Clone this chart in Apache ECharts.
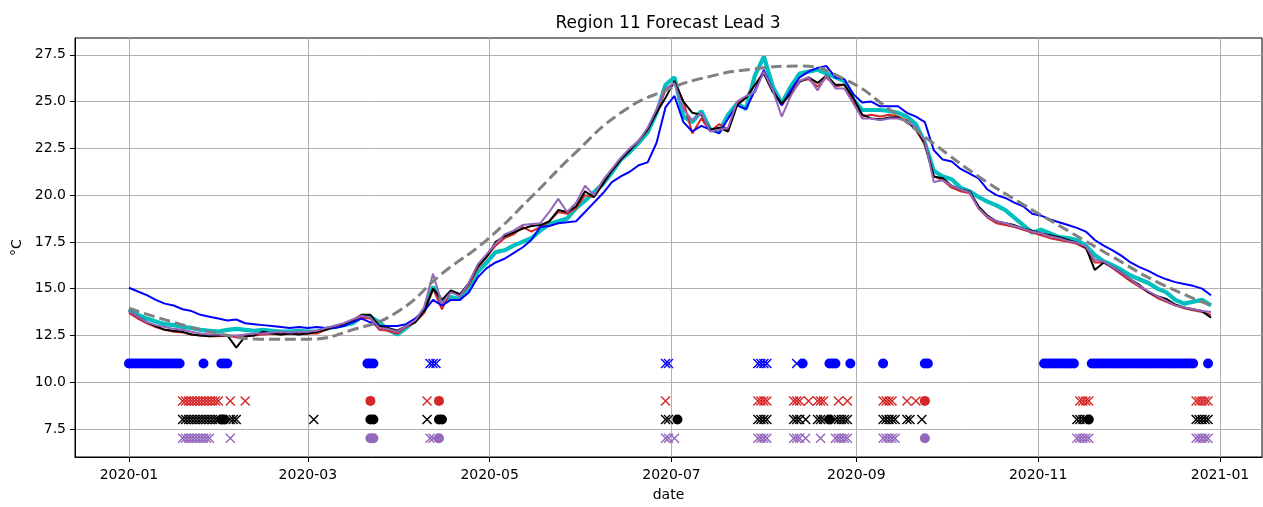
<!DOCTYPE html>
<html>
<head>
<meta charset="utf-8">
<title>Region 11 Forecast Lead 3</title>
<script src="https://cdn.jsdelivr.net/npm/echarts@6/dist/echarts.min.js"></script>
<style>
  html, body { margin: 0; padding: 0; background: #fff; }
  #chart { width: 1263px; height: 507px; }
</style>
</head>
<body>
<div id="chart"></div>
<script>
var DAY = 86400000;
var START = Date.UTC(2020, 0, 1);
var STEP = 3; // line values are read every 3 days starting 2020-01-01

var obsBlack = [
  13.8, 13.5, 13.2, 13.0, 12.8, 12.75, 12.7, 12.55, 12.5, 12.45, 12.5, 12.5, 11.85, 12.45, 12.5, 12.7, 12.6, 12.55, 12.6, 12.55, 12.6,
  12.7, 12.8, 13.0, 13.1, 13.3, 13.6, 13.6, 13.0, 12.9, 12.75, 13.0, 13.2, 13.8, 15.0, 14.4, 14.9, 14.7, 15.3, 16.2, 16.7,
  17.5, 17.8, 18.0, 18.2, 18.35, 18.4, 18.6, 19.2, 19.1, 19.4, 20.2, 19.9, 20.6, 21.3, 21.9, 22.4, 22.9, 23.5, 24.4, 25.2,
  26.1, 25.0, 24.4, 24.3, 23.5, 23.6, 23.4, 24.8, 25.2, 25.9, 26.5, 25.5, 24.9, 25.4, 26.05, 26.3, 26.0, 26.4, 25.9, 25.9,
  25.2, 24.3, 24.1, 24.05, 24.15, 24.15, 23.95, 23.5, 22.8, 21.0, 20.9, 20.5, 20.3, 20.2, 19.4, 18.9, 18.6, 18.5, 18.4, 18.2,
  18.1, 17.95, 17.85, 17.75, 17.6, 17.45, 17.2, 16.0, 16.4, 16.15, 15.85, 15.5, 15.2, 14.8, 14.6, 14.45, 14.15, 14.0, 13.9, 13.8, 13.45
];
var fcRed = [
  13.7, 13.4, 13.15, 12.95, 12.8, 12.7, 12.65, 12.55, 12.5, 12.45, 12.45, 12.5, 12.4, 12.5, 12.5, 12.55, 12.6, 12.55, 12.6, 12.6, 12.6,
  12.6, 12.8, 12.95, 13.1, 13.3, 13.45, 13.4, 12.8, 12.75, 12.6, 12.95, 13.2, 13.7, 15.0, 13.9, 14.9, 14.6, 15.2, 16.1, 16.7,
  17.3, 17.7, 17.9, 18.3, 18.05, 18.3, 18.6, 19.1, 19.0, 19.3, 20.0, 19.9, 20.6, 21.3, 21.9, 22.4, 22.9, 23.5, 24.5, 25.6,
  26.0, 25.0, 23.3, 24.1, 23.4, 23.8, 23.5, 24.9, 25.2, 25.9, 26.6, 25.6, 24.8, 25.5, 26.1, 26.2, 25.8, 26.3, 25.8, 25.9,
  25.0, 24.2, 24.3, 24.2, 24.3, 24.2, 24.0, 23.5, 22.7, 21.0, 20.8, 20.4, 20.2, 20.1, 19.3, 18.8, 18.5, 18.4, 18.3, 18.15,
  18.0, 17.85, 17.7, 17.6, 17.5, 17.4, 17.15, 16.4, 16.4, 16.1, 15.75, 15.4, 15.1, 14.8, 14.5, 14.3, 14.1, 13.95, 13.85, 13.75, 13.6
];
var fcCyan = [
  13.9, 13.6, 13.4, 13.25, 13.1, 13.05, 12.95, 12.9, 12.8, 12.75, 12.7, 12.8, 12.85, 12.8, 12.75, 12.8, 12.75, 12.7, 12.7, 12.75, 12.7,
  12.7, 12.85, 12.95, 13.05, 13.15, 13.5, 13.5, 13.2, 12.8, 12.55, 12.9, 13.3, 13.8, 15.1, 14.3, 14.55, 14.45, 15.0, 15.9, 16.4,
  16.95, 17.05, 17.3, 17.5, 17.7, 18.1, 18.45, 18.6, 18.75, 19.3, 19.7, 20.15, 20.6, 21.2, 21.9, 22.3, 22.8, 23.35, 24.4, 25.9,
  26.3, 24.2, 23.9, 24.5, 23.5, 23.4, 24.3, 24.9, 24.6, 26.4, 27.4, 25.8, 24.9, 25.8, 26.5, 26.6, 26.7, 26.5, 26.3, 26.1,
  25.1, 24.55, 24.55, 24.55, 24.5, 24.4, 24.2, 23.8, 22.8, 21.3, 21.0, 20.85, 20.4, 20.2, 19.9, 19.65, 19.45, 19.2, 18.8, 18.4,
  18.0, 18.15, 17.95, 17.75, 17.7, 17.6, 17.3, 16.8, 16.45, 16.25, 16.0, 15.7, 15.5, 15.3, 15.0, 14.8, 14.4, 14.2, 14.3, 14.4, 14.1
];
var fcBlue = [
  15.05, 14.85, 14.65, 14.4, 14.2, 14.1, 13.9, 13.8, 13.6, 13.5, 13.4, 13.3, 13.35, 13.15, 13.1, 13.05, 13.0, 12.95, 12.9, 12.95, 12.9,
  12.95, 12.9, 12.9, 13.0, 13.2, 13.4, 13.2, 13.0, 13.0, 13.0, 13.1, 13.4, 13.8, 14.4, 14.1, 14.4, 14.4, 14.8, 15.6, 16.1,
  16.4, 16.6, 16.9, 17.2, 17.6, 18.3, 18.35, 18.5, 18.55, 18.6, 19.1, 19.6, 20.1, 20.7, 21.0, 21.25, 21.6, 21.75, 22.8, 24.7,
  25.3, 23.9, 23.4, 23.7, 23.5, 23.3, 24.1, 24.8, 24.6, 25.6, 26.7, 25.6, 24.8, 25.6, 26.3, 26.6, 26.8, 26.9, 26.3, 26.2,
  25.4, 24.95, 25.0, 24.75, 24.75, 24.75, 24.4, 24.2, 23.9, 22.4, 21.9, 21.8, 21.4, 21.15, 20.9, 20.3, 20.0, 19.85, 19.6, 19.4,
  19.0, 18.9, 18.7, 18.55, 18.4, 18.25, 18.05, 17.6, 17.3, 17.05, 16.75, 16.4, 16.15, 15.95, 15.7, 15.5, 15.35, 15.25, 15.15, 15.0, 14.65
];
var fcPurple = [
  13.8, 13.5, 13.2, 13.05, 12.95, 12.85, 12.8, 12.7, 12.6, 12.55, 12.55, 12.5, 12.5, 12.55, 12.6, 12.6, 12.65, 12.7, 12.65, 12.7, 12.7,
  12.75, 12.9, 13.0, 13.15, 13.35, 13.55, 13.45, 12.9, 12.85, 12.7, 13.0, 13.3, 14.0, 15.8, 14.2, 14.8, 14.6, 15.3, 16.3, 16.85,
  17.4, 17.9, 18.1, 18.4, 18.45, 18.5, 19.1, 19.8, 19.1, 19.6, 20.5, 20.0, 20.8, 21.4, 22.0, 22.5, 22.9, 23.6, 24.6, 25.7,
  26.0, 24.6, 24.0, 24.4, 23.4, 23.5, 23.6, 25.0, 25.3, 25.5, 26.6, 25.6, 24.2, 25.3, 26.1, 26.3, 25.6, 26.4, 25.7, 25.7,
  24.9, 24.1, 24.1, 24.0, 24.1, 24.1, 23.95, 23.6, 22.9, 20.7, 20.8, 20.5, 20.3, 20.15, 19.3, 18.85, 18.6, 18.5, 18.35, 18.2,
  18.05, 17.95, 17.8, 17.7, 17.55, 17.45, 17.25, 16.55, 16.45, 16.15, 15.85, 15.5, 15.15, 14.85, 14.6, 14.35, 14.1, 14.0, 13.9, 13.8, 13.75
];

// climatology (grey dashed), day offsets from 2020-01-01
var climDays = [0, 15, 30, 45, 60, 75, 90, 105, 120, 135, 150, 165, 180, 195, 210, 225, 240, 255, 270, 285, 300, 315, 330, 345, 363];
var climVals = [13.95, 13.2, 12.6, 12.3, 12.3, 12.8, 13.75, 15.8, 17.6, 19.9, 22.3, 24.4, 25.6, 26.35, 26.75, 26.9, 26.2, 24.6, 22.75, 21.0, 19.5, 18.1, 16.7, 15.35, 14.1];

// event rows: day offsets from 2020-01-01
var rowLevels = { blue: 11, red: 9, black: 8, purple: 7 };
var blueDots = [0, 1, 2, 3, 4, 5, 6, 7, 8, 9, 10, 11, 12, 13, 14, 15, 16, 17, 25, 31, 32, 33, 80, 81, 82,
  226, 235, 236, 237, 242, 253, 267, 268,
  307, 308, 309, 310, 311, 312, 313, 314, 315, 316, 317,
  323, 324, 325, 326, 327, 328, 329, 330, 331, 332, 333, 334, 335, 336, 337, 338, 339, 340, 341, 342,
  343, 344, 345, 346, 347, 348, 349, 350, 351, 352, 353, 354, 355, 356, 357, 362];
var blueCrosses = [101, 102, 103, 180, 181, 211, 212, 213, 214, 224];
var redDots = [81, 104, 267];
var redCrosses = [18, 19, 20, 21, 22, 23, 24, 25, 26, 27, 28, 29, 30, 34, 39, 100, 180,
  211, 212, 213, 214, 223, 224, 225, 228, 231, 232, 233, 238, 241, 253, 254, 255, 256, 261, 264,
  319, 320, 321, 322, 358, 359, 360, 361, 362];
var blackDots = [31, 32, 81, 82, 104, 105, 184, 235, 322];
var blackCrosses = [18, 19, 20, 21, 22, 23, 24, 25, 26, 27, 28, 29, 30, 34, 35, 36, 62, 100, 180, 181,
  211, 212, 213, 214, 223, 224, 225, 227, 231, 232, 233, 237, 238, 239, 240, 241,
  253, 254, 255, 256, 257, 261, 262, 266, 318, 319, 320, 321, 358, 359, 360, 361, 362];
var purpleDots = [81, 82, 104, 267];
var purpleCrosses = [18, 19, 20, 21, 22, 23, 24, 25, 26, 27, 34, 101, 102, 180, 181, 183,
  211, 212, 213, 214, 223, 224, 225, 227, 232, 237, 238, 239, 240, 241,
  253, 254, 255, 256, 257, 318, 319, 320, 321, 322, 358, 359, 360, 361, 362];

var xTicks = [Date.UTC(2020, 0, 1), Date.UTC(2020, 2, 1), Date.UTC(2020, 4, 1), Date.UTC(2020, 6, 1),
  Date.UTC(2020, 8, 1), Date.UTC(2020, 10, 1), Date.UTC(2021, 0, 1)];
var yTicks = [7.5, 10.0, 12.5, 15.0, 17.5, 20.0, 22.5, 25.0, 27.5];

function toTime(d) { return START + d * DAY; }
function lineData(vals) {
  return vals.map(function (v, i) { return [toTime(i * STEP), v]; });
}
function rowData(days, level) {
  return days.map(function (d) { return [toTime(d), level]; });
}

var FONT = 'DejaVu Sans';
var CROSS = 'path://M0,0L10,10M10,0L0,10';

function line(name, vals, color, width, z) {
  return {
    name: name, type: 'line', data: lineData(vals), showSymbol: false, z: z,
    lineStyle: { color: color, width: width }, itemStyle: { color: color }
  };
}
function dots(days, level, color) {
  return {
    type: 'scatter', data: rowData(days, level), symbol: 'circle', symbolSize: 10, z: 3,
    itemStyle: { color: color, opacity: 1 }
  };
}
function crosses(days, level, color) {
  return {
    type: 'scatter', data: rowData(days, level), symbol: CROSS, symbolSize: 9, z: 3,
    itemStyle: { color: color, borderColor: color, borderWidth: 1.4, opacity: 1 }
  };
}

var chart = echarts.init(document.getElementById('chart'), null, { renderer: 'canvas' });
var option = {
  animation: false,
  backgroundColor: '#ffffff',
  textStyle: { fontFamily: FONT },
  title: {
    text: 'Region 11 Forecast Lead 3',
    left: 668, top: 15, textAlign: 'center', padding: 0,
    textStyle: { fontFamily: FONT, fontSize: 17, fontWeight: 'normal', color: '#000' }
  },
  grid: {
    left: 75, right: 1, top: 38, bottom: 48,
    show: true, borderColor: '#000', borderWidth: 1, backgroundColor: 'transparent'
  },
  xAxis: {
    type: 'value',
    min: toTime(-18.1), max: toTime(380.1),
    name: 'date', nameLocation: 'middle', nameGap: 31,
    nameTextStyle: { fontFamily: FONT, fontSize: 14, color: '#000' },
    axisLine: { show: true, lineStyle: { color: '#000', width: 1 } },
    axisTick: { show: true, length: 5, customValues: xTicks, lineStyle: { color: '#000' } },
    axisLabel: {
      customValues: xTicks, margin: 11, fontFamily: FONT, fontSize: 14, color: '#000',
      formatter: function (v) {
        var d = new Date(v);
        var m = d.getUTCMonth() + 1;
        return d.getUTCFullYear() + '-' + (m < 10 ? '0' + m : m);
      }
    },
    splitLine: { show: true, lineStyle: { color: '#b0b0b0', width: 1 } }
  },
  yAxis: {
    type: 'value',
    min: 6.0, max: 28.4,
    name: '°C', nameLocation: 'middle', nameGap: 48, nameRotate: 90,
    nameTextStyle: { fontFamily: FONT, fontSize: 14, color: '#000' },
    axisLine: { show: true, lineStyle: { color: '#000', width: 1 } },
    axisTick: { show: true, length: 5, customValues: yTicks, lineStyle: { color: '#000' } },
    axisLabel: {
      customValues: yTicks, margin: 9, fontFamily: FONT, fontSize: 14, color: '#000',
      formatter: function (v) { return v.toFixed(1); }
    },
    splitLine: { show: true, lineStyle: { color: '#b0b0b0', width: 1 } }
  },
  series: [
    line('cyan', fcCyan, '#00bfbf', 4.2, 2),
    line('red', fcRed, '#d62728', 2, 2),
    line('blue', fcBlue, '#0000ff', 2, 2),
    line('obs', obsBlack, '#000000', 2, 2),
    line('purple', fcPurple, '#9467bd', 2, 2),
    {
      name: 'climatology', type: 'line', showSymbol: false, smooth: true, z: 2,
      data: climDays.map(function (d, i) { return [toTime(d), climVals[i]]; }),
      lineStyle: { color: '#808080', width: 3, type: [11, 5] }
    },
    dots(blueDots, rowLevels.blue, '#0000ff'),
    crosses(blueCrosses, rowLevels.blue, '#0000ff'),
    dots(redDots, rowLevels.red, '#d62728'),
    crosses(redCrosses, rowLevels.red, '#d62728'),
    dots(blackDots, rowLevels.black, '#000000'),
    crosses(blackCrosses, rowLevels.black, '#000000'),
    dots(purpleDots, rowLevels.purple, '#9467bd'),
    crosses(purpleCrosses, rowLevels.purple, '#9467bd')
  ]
};
chart.setOption(option);
</script>
</body>
</html>
